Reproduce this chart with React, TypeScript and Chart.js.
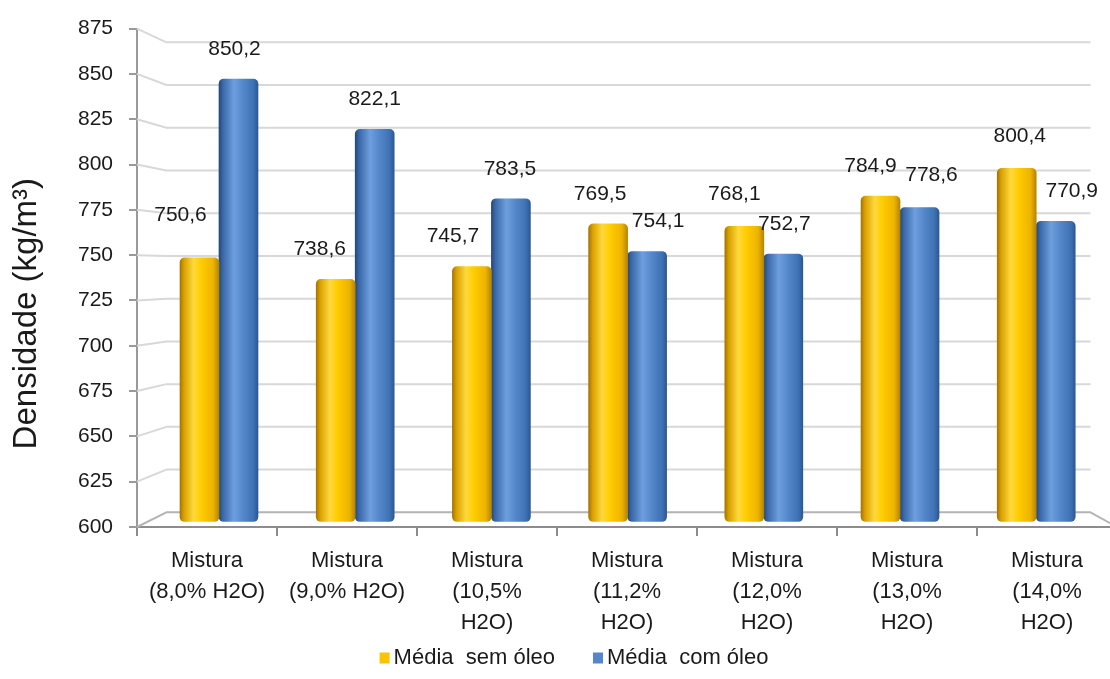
import { useEffect, useRef } from "react";
import { Chart, registerables } from "chart.js";

Chart.register(...registerables);

// ---- data ----
const CATEGORIES: string[][] = [
  ["Mistura", "(8,0% H2O)"],
  ["Mistura", "(9,0% H2O)"],
  ["Mistura", "(10,5%", "H2O)"],
  ["Mistura", "(11,2%", "H2O)"],
  ["Mistura", "(12,0%", "H2O)"],
  ["Mistura", "(13,0%", "H2O)"],
  ["Mistura", "(14,0%", "H2O)"],
];
const SEM_OLEO = [750.6, 738.6, 745.7, 769.5, 768.1, 784.9, 800.4];
const COM_OLEO = [850.2, 822.1, 783.5, 754.1, 752.7, 778.6, 770.9];
const SERIES_NAMES = ["Média  sem óleo", "Média  com óleo"];
const Y_MIN = 600;
const Y_MAX = 875;
const Y_STEP = 25;
const Y_TITLE = "Densidade (kg/m³)";

// ---- drawing constants ----
const FONT = "'Liberation Sans', Arial, Helvetica, sans-serif";
const TEXT = "#1a1a1a";
const BAR_W = 39;
const LEGEND_COLORS = ["#FBC300", "#5486CB"];
// the bars stand mid-way in the 3-D box, so they use their own scales
const BAR_X_RANGE = { min: -0.602, max: 6.593 };
const BAR_Y_RANGE = { min: 600.55, max: 878.3 };
const BAR_FLOOR = 603.6;
// vanishing point (fraction of the plot area) and depth of the back wall
const VP = { fx: 0.5255, fy: 0.483 };
const BACK = 0.943;
// small label nudges (px) so neighbouring value labels do not collide
const LABEL_DX = [
  [-19, -16, -19, -8, -10, -10, 3],
  [-4, 0, -1, 11, 1, 12, 16],
];
const LABEL_DY = [
  [-13, 0, 0, 0, -2, 0, -2],
  [0, 0, 0, 0, 0, -2, 0],
];

const YELLOW_STOPS: [number, string][] = [
  [0, "#A67500"],
  [0.1, "#D9A000"],
  [0.35, "#FFD93C"],
  [0.55, "#FFCC00"],
  [0.85, "#EDB300"],
  [1, "#B58500"],
];
const BLUE_STOPS: [number, string][] = [
  [0, "#24497A"],
  [0.1, "#3A68A8"],
  [0.38, "#6E9EDE"],
  [0.6, "#5689CC"],
  [0.88, "#3F72B5"],
  [1, "#2B5891"],
];

const cylinder = (stops: [number, string][], fallback: string) => (c: any) => {
  const chart = c.chart;
  const xs = chart.scales?.xb;
  if (!xs || c.type !== "data" || !chart.chartArea) return fallback;
  const center = xs.getPixelForValue(c.dataIndex);
  const x0 = c.datasetIndex === 0 ? center - BAR_W : center;
  if (!isFinite(x0)) return fallback;
  const g = chart.ctx.createLinearGradient(x0, 0, x0 + BAR_W, 0);
  stops.forEach(([o, col]) => g.addColorStop(o, col));
  return g;
};

// back wall grid lines and floor of the 3-D box
const wallPlugin = {
  id: "wall",
  beforeDatasetsDraw(chart: any) {
    const { ctx, chartArea } = chart;
    const y = chart.scales.y;
    const { left, right, top, bottom } = chartArea;
    const cx = left + VP.fx * (right - left);
    const cy = top + VP.fy * (bottom - top);
    const bx0 = cx + BACK * (left - cx);
    const bx1 = cx + BACK * (right - cx);
    ctx.save();
    ctx.lineWidth = 2;
    ctx.lineJoin = "round";
    for (const t of y.ticks) {
      const fy = y.getPixelForValue(t.value);
      const by = cy + BACK * (fy - cy);
      const floor = t.value === Y_MIN;
      ctx.strokeStyle = floor ? "#b4b4b4" : "#d8d8d8";
      ctx.beginPath();
      ctx.moveTo(left, fy);
      ctx.lineTo(bx0, by);
      ctx.lineTo(bx1, by);
      if (floor) ctx.lineTo(right, fy);
      ctx.stroke();
    }
    ctx.restore();
  },
};

// value labels above the bars
const valueLabelPlugin = {
  id: "valueLabels",
  afterDatasetsDraw(chart: any) {
    const { ctx } = chart;
    ctx.save();
    ctx.font = `21px ${FONT}`;
    ctx.fillStyle = TEXT;
    ctx.textAlign = "center";
    ctx.textBaseline = "middle";
    chart.data.datasets.forEach((ds: any, di: number) => {
      const meta = chart.getDatasetMeta(di);
      meta.data.forEach((bar: any, i: number) => {
        const v = ds.data[i].y as number;
        const txt = v.toFixed(1).replace(".", ",");
        ctx.fillText(txt, bar.x + LABEL_DX[di][i], bar.y - 30 + LABEL_DY[di][i]);
      });
    });
    ctx.restore();
  },
};

// rotated y-axis title
const yTitlePlugin = {
  id: "yTitle",
  afterDraw(chart: any) {
    const { ctx, chartArea } = chart;
    ctx.save();
    ctx.translate(36, chartArea.top + 0.572 * (chartArea.bottom - chartArea.top));
    ctx.rotate(-Math.PI / 2);
    ctx.font = `33px ${FONT}`;
    ctx.fillStyle = TEXT;
    ctx.textAlign = "center";
    ctx.textBaseline = "alphabetic";
    ctx.fillText(Y_TITLE, 0, 0);
    ctx.restore();
  },
};

// legend row under the category labels
const legendPlugin = {
  id: "legendRow",
  afterDraw(chart: any) {
    const { ctx } = chart;
    const BOX_W = 10;
    const BOX_H = 11;
    const BOX_GAP = 4;
    const ITEM_GAP = 38;
    ctx.save();
    ctx.font = `22px ${FONT}`;
    const items = chart.data.datasets.map((ds: any, i: number) => ({
      text: ds.label as string,
      color: LEGEND_COLORS[i],
      w: ctx.measureText(ds.label).width,
    }));
    const total =
      items.reduce((s: number, it: any) => s + BOX_W + BOX_GAP + it.w, 0) +
      ITEM_GAP * (items.length - 1);
    const { left, right } = chart.chartArea;
    const centerX = (left - 106 + right) / 2;
    const yMid = chart.height - 21;
    let x = centerX - total / 2;
    ctx.textAlign = "left";
    ctx.textBaseline = "middle";
    for (const it of items) {
      ctx.fillStyle = it.color;
      ctx.fillRect(x, yMid - BOX_H / 2, BOX_W, BOX_H);
      x += BOX_W + BOX_GAP;
      ctx.fillStyle = TEXT;
      ctx.fillText(it.text, x, yMid);
      x += it.w + ITEM_GAP;
    }
    ctx.restore();
  },
};

export default function App() {
  const canvasRef = useRef<HTMLCanvasElement | null>(null);

  useEffect(() => {
    document.body.style.margin = "0";
    const canvas = canvasRef.current;
    if (!canvas) return;

    const chart = new Chart(canvas, {
      type: "bar",
      data: {
        labels: CATEGORIES,
        datasets: [
          {
            label: SERIES_NAMES[0],
            data: SEM_OLEO.map((v, i) => ({ x: i, y: v })),
            xAxisID: "xb",
            yAxisID: "yb",
            base: BAR_FLOOR,
            backgroundColor: cylinder(YELLOW_STOPS, LEGEND_COLORS[0]),
            borderWidth: 0,
            borderRadius: 5,
            borderSkipped: false,
            barThickness: BAR_W,
          },
          {
            label: SERIES_NAMES[1],
            data: COM_OLEO.map((v, i) => ({ x: i, y: v })),
            xAxisID: "xb",
            yAxisID: "yb",
            base: BAR_FLOOR,
            backgroundColor: cylinder(BLUE_STOPS, LEGEND_COLORS[1]),
            borderWidth: 0,
            borderRadius: 5,
            borderSkipped: false,
            barThickness: BAR_W,
          },
        ],
      } as any,
      options: {
        responsive: false,
        maintainAspectRatio: false,
        animation: false,
        devicePixelRatio: 1,
        layout: { padding: { left: 31, right: 31, top: 24, bottom: 0 } },
        font: { family: FONT },
        scales: {
          x: {
            type: "category",
            position: "bottom",
            offset: true,
            grid: {
              offset: true,
              drawOnChartArea: false,
              drawTicks: true,
              tickLength: 9,
              color: "#8c8c8c",
              lineWidth: 2,
            },
            border: { display: true, color: "#8c8c8c", width: 2 },
            ticks: {
              font: { family: FONT, size: 22, lineHeight: 1.41 },
              color: TEXT,
              padding: 9,
              maxRotation: 0,
              autoSkip: false,
            },
            afterFit: (s: any) => {
              s.height = 152;
            },
          },
          y: {
            type: "linear",
            position: "left",
            min: Y_MIN,
            max: Y_MAX,
            ticks: {
              stepSize: Y_STEP,
              font: { family: FONT, size: 21 },
              color: TEXT,
              padding: 16,
            },
            grid: {
              drawOnChartArea: false,
              drawTicks: true,
              tickLength: 8,
              color: "#9a9a9a",
              lineWidth: 2,
            },
            border: { display: true, color: "#9a9a9a", width: 2 },
            afterFit: (s: any) => {
              s.width = 106;
            },
          },
          xb: {
            type: "linear",
            axis: "x",
            position: "bottom",
            display: false,
            offset: false,
            min: BAR_X_RANGE.min,
            max: BAR_X_RANGE.max,
            grid: { offset: false },
          },
          yb: {
            type: "linear",
            axis: "y",
            position: "left",
            display: false,
            beginAtZero: false,
            min: BAR_Y_RANGE.min,
            max: BAR_Y_RANGE.max,
          },
        } as any,
        plugins: {
          legend: { display: false },
          tooltip: { enabled: false },
          title: { display: false },
        },
      },
      plugins: [wallPlugin, valueLabelPlugin, yTitlePlugin, legendPlugin],
    });

    return () => chart.destroy();
  }, []);

  return (
    <div style={{ width: 1110, height: 679, overflow: "hidden", position: "relative", background: "#fff" }}>
      <canvas ref={canvasRef} width={1148} height={679} style={{ display: "block" }} />
    </div>
  );
}
